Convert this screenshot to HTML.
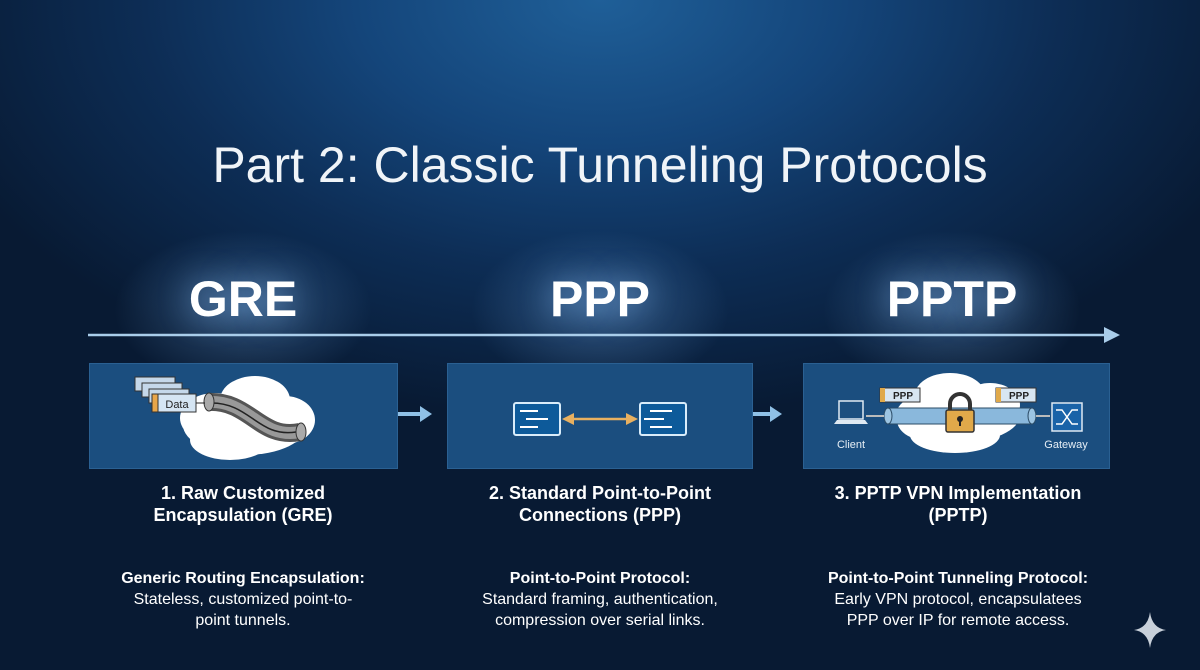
<!DOCTYPE html>
<html><head><meta charset="utf-8"><style>
*{margin:0;padding:0;box-sizing:border-box}
body{width:1200px;height:670px;overflow:hidden;position:relative;font-family:"Liberation Sans",sans-serif;color:#fff;
background:radial-gradient(ellipse 700px 420px at 600px 0px,#1f5f98 0%,#14457a 35%,#0d2d55 65%,#081a33 100%);}
.t{position:absolute;text-align:center;white-space:nowrap}
.title{left:0;width:1200px;top:136px;font-size:50px;font-weight:normal;color:#f0f4f8;letter-spacing:0px}
.big{font-size:50px;font-weight:bold;top:270px;width:300px;text-shadow:0 0 30px rgba(150,200,255,.6)}
.glow{position:absolute;width:260px;height:160px;top:230px;border-radius:50%;background:radial-gradient(ellipse,rgba(120,180,240,.35),rgba(120,180,240,0) 70%)}
.panel{position:absolute;top:363px;height:106px;background:#1b4e7f;border:1px solid #2a6092}
.h{font-size:18px;font-weight:bold;top:482px;width:340px;line-height:22px}
.d{font-size:16px;top:568px;width:340px;line-height:21px}
.d b{font-weight:bold}
</style></head><body>
<div class="glow" style="left:113px"></div>
<div class="glow" style="left:470px"></div>
<div class="glow" style="left:822px"></div>
<div class="t title">Part 2: Classic Tunneling Protocols</div>
<div class="t big" style="left:93px">GRE</div>
<div class="t big" style="left:450px">PPP</div>
<div class="t big" style="left:802px">PPTP</div>
<svg style="position:absolute;left:0;top:0" width="1200" height="670">
<line x1="88" y1="335" x2="1112" y2="335" stroke="#a9cdea" stroke-width="2.5"/>
<polygon points="1120,335 1104,327 1104,343" fill="#a9cdea"/>
<line x1="388" y1="414" x2="422" y2="414" stroke="#8fc0e6" stroke-width="4"/>
<polygon points="432,414 420,406 420,422" fill="#8fc0e6"/>
<line x1="735" y1="414" x2="772" y2="414" stroke="#8fc0e6" stroke-width="4"/>
<polygon points="782,414 770,406 770,422" fill="#8fc0e6"/>
</svg>
<div class="panel" style="left:89px;width:309px"></div>
<div class="panel" style="left:447px;width:306px"></div>
<div class="panel" style="left:803px;width:307px"></div>
<svg style="position:absolute;left:0;top:0" width="1200" height="670">
<!-- GRE -->
<g fill="#fff">
<ellipse cx="245" cy="425" rx="62" ry="30"/><ellipse cx="215" cy="418" rx="35" ry="25"/><ellipse cx="255" cy="400" rx="35" ry="24"/><ellipse cx="285" cy="420" rx="30" ry="24"/><ellipse cx="230" cy="440" rx="40" ry="20"/>
</g>
<path d="M208,402 C250,400 260,440 300,432" stroke="#555" stroke-width="18" fill="none"/>
<path d="M208,402 C250,400 260,440 300,432" stroke="#999" stroke-width="12" fill="none"/>
<path d="M210,403 C250,402 258,438 296,432" stroke="#222" stroke-width="1.5" fill="none"/>
<ellipse cx="209" cy="402" rx="5" ry="9" fill="#aaa" stroke="#333"/>
<ellipse cx="301" cy="432" rx="5" ry="9" fill="#aaa" stroke="#333"/>
<g stroke="#333" stroke-width="1">
<rect x="135" y="377" width="40" height="14" fill="#c5d8ea"/><rect x="142" y="383" width="40" height="14" fill="#c5d8ea"/><rect x="149" y="389" width="40" height="14" fill="#c5d8ea"/>
<rect x="152" y="394" width="6" height="18" fill="#e8a64a"/><rect x="158" y="394" width="38" height="18" fill="#d5e5f3"/>
</g>
<text x="177" y="408" font-size="11" fill="#222" text-anchor="middle">Data</text>
<line x1="196" y1="403" x2="205" y2="403" stroke="#222"/>
<!-- PPP -->
<g fill="#0d5a9a" stroke="#d8ecfa" stroke-width="2">
<rect x="514" y="403" width="46" height="32" rx="2"/><rect x="640" y="403" width="46" height="32" rx="2"/>
</g>
<g stroke="#fff" stroke-width="2" fill="none">
<path d="M520,411h18M526,419h22M520,427h18M650,411h22M644,419h20M650,427h22"/>
</g>
<line x1="570" y1="419" x2="630" y2="419" stroke="#e8b060" stroke-width="2.5"/>
<polygon points="562,419 574,413 574,425" fill="#e8b060"/><polygon points="638,419 626,413 626,425" fill="#e8b060"/>
<!-- PPTP -->
<g fill="#fff">
<ellipse cx="958" cy="415" rx="62" ry="28"/><ellipse cx="950" cy="395" rx="35" ry="22"/><ellipse cx="990" cy="405" rx="30" ry="22"/><ellipse cx="925" cy="420" rx="28" ry="20"/><ellipse cx="955" cy="435" rx="45" ry="18"/>
</g>
<rect x="888" y="408" width="144" height="16" fill="#8ab8dc" stroke="#2b4b66"/>
<ellipse cx="888" cy="416" rx="4" ry="8" fill="#9cc4e2" stroke="#2b4b66"/>
<ellipse cx="1032" cy="416" rx="4" ry="8" fill="#9cc4e2" stroke="#2b4b66"/>
<line x1="866" y1="416" x2="884" y2="416" stroke="#bbb" stroke-width="2"/>
<line x1="1036" y1="416" x2="1050" y2="416" stroke="#bbb" stroke-width="2"/>
<path d="M950,412v-8a10,10 0 0 1 20,0v8" stroke="#333" stroke-width="4" fill="none"/>
<rect x="946" y="410" width="28" height="22" rx="2" fill="#e0a94a" stroke="#333" stroke-width="1.5"/>
<circle cx="960" cy="419" r="3" fill="#222"/><rect x="959" y="419" width="2" height="7" fill="#222"/>
<rect x="880" y="388" width="40" height="14" fill="#d8e6f2" stroke="#333"/><rect x="880" y="388" width="5" height="14" fill="#e0a94a"/>
<text x="903" y="399" font-size="10" font-weight="bold" fill="#222" text-anchor="middle">PPP</text>
<rect x="996" y="388" width="40" height="14" fill="#d8e6f2" stroke="#333"/><rect x="996" y="388" width="5" height="14" fill="#e0a94a"/>
<text x="1019" y="399" font-size="10" font-weight="bold" fill="#222" text-anchor="middle">PPP</text>
<rect x="839" y="401" width="24" height="18" fill="none" stroke="#dfe9f2" stroke-width="1.5"/>
<path d="M834,424h34l-3,-4h-28z" fill="#dfe9f2"/>
<text x="851" y="448" font-size="11" fill="#e6eef5" text-anchor="middle">Client</text>
<rect x="1052" y="403" width="30" height="28" fill="#1a63a8" stroke="#dfe9f2" stroke-width="1.5"/>
<path d="M1056,410h6l10,14h6M1056,424h6l10,-14h6" stroke="#fff" stroke-width="1.5" fill="none"/>
<text x="1066" y="448" font-size="11" fill="#e6eef5" text-anchor="middle">Gateway</text>
<!-- sparkle -->
<path d="M1150,612 Q1152,628 1166,630 Q1152,632 1150,648 Q1148,632 1134,630 Q1148,628 1150,612z" fill="#c8d0da"/>
</svg>
<div class="t h" style="left:73px">1. Raw Customized<br>Encapsulation (GRE)</div>
<div class="t h" style="left:430px">2. Standard Point-to-Point<br>Connections (PPP)</div>
<div class="t h" style="left:788px">3. PPTP VPN Implementation<br>(PPTP)</div>
<div class="t d" style="left:73px"><b>Generic Routing Encapsulation:</b><br>Stateless, customized point-to-<br>point tunnels.</div>
<div class="t d" style="left:430px"><b>Point-to-Point Protocol:</b><br>Standard framing, authentication,<br>compression over serial links.</div>
<div class="t d" style="left:788px"><b>Point-to-Point Tunneling Protocol:</b><br>Early VPN protocol, encapsulatees<br>PPP over IP for remote access.</div>
</body></html>
